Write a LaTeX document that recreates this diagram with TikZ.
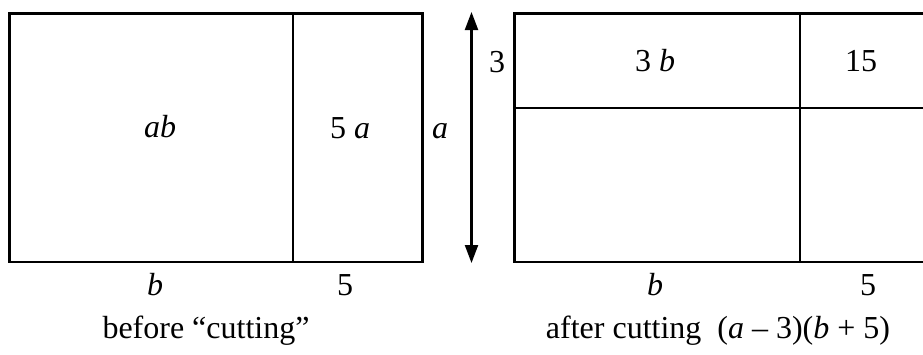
\documentclass[tikz,border=0pt]{standalone}
\usepackage{fontspec}
\setmainfont{Liberation Serif}
\usetikzlibrary{arrows.meta}
\begin{document}
\begin{tikzpicture}[x=1pt,y=-1pt,
  edge/.style={line width=2.7pt},
  lbl/.style={inner sep=0pt,anchor=base,font=\fontsize{32}{36}\selectfont},
  dim/.style={line width=2.2pt,{Triangle[length=18pt,width=13pt]}-{Triangle[length=18pt,width=13pt]}}]
\useasboundingbox (0,0) rectangle (923,354);
% left rectangle
\draw[edge] (9.5,13.5) rectangle (422.5,262);
\draw[edge] (293,13.5) -- (293,262);
% arrow
\coordinate (atop) at (471.5,12);
\coordinate (abot) at (471.5,263);
\draw[dim] (atop) -- (abot);
% right rectangle (open on the right)
\draw[edge] (925,13.5) -- (514.5,13.5) -- (514.5,262) -- (925,262);
\draw[edge] (514.5,108) -- (925,108);
\draw[edge] (800,13.5) -- (800,262);
% labels
\node[lbl] (ab) at (160,137) {\textit{ab}};
\node[lbl] (fa) at (350,138) {5 \textit{a}};
\node[lbl] (sa) at (440,138) {\textit{a}};
\node[lbl] (t3) at (497,72) {3};
\node[lbl] (tb) at (655,71) {3 \textit{b}};
\node[lbl] (ff) at (861,71) {15};
\node[lbl] (bl) at (155,295) {\textit{b}};
\node[lbl] (fl) at (345,295) {5};
\node[lbl] (br) at (655,295) {\textit{b}};
\node[lbl] (fr) at (868,295) {5};
\node[lbl] (cap1) at (206,338) {before “cutting”};
\node[lbl] (cap2) at (718,338) {after cutting\ \ (\textit{a} – 3)(\textit{b} + 5)};
\end{tikzpicture}
\end{document}
